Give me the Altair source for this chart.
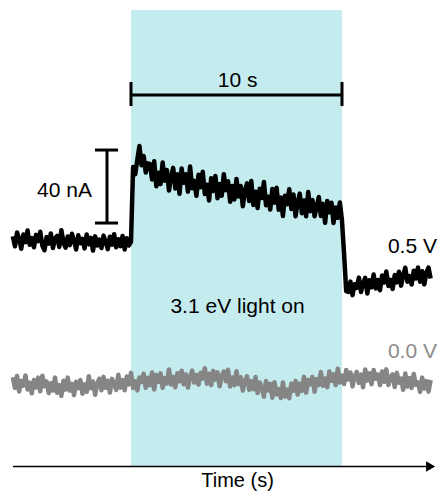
import altair as alt
import pandas as pd

# time axis (s), light switched on at t = 0 for 10 s
T_START = -5.6
T_STEP = 0.1

# photocurrent at 0.5 V (nA, relative to dark level)
black_dark = [
    2.0, -3.5, 4.1, 0.5, -4.8, 3.0, -1.2, 5.2, -2.6, 1.0,
    -4.0, 2.8, -0.6, 4.5, -3.2, -5.6, 1.6, -2.0, 3.6, -4.4,
    0.8, 2.2, -3.8, 5.4, -1.4, -4.2, 1.9, -2.8, 3.4, -0.4,
    -5.2, 2.6, -1.8, 0.6, -4.6, 3.0, -2.4, 1.2, -5.8, 2.0,
    -3.0, 0.2, -4.4, 2.4, -1.0, -5.0, 1.8, -2.6, 3.2, -4.0,
    0.4, -3.4, 2.2, -5.2, 1.0, -3.0,
]
black_light = [
    -1.0, 40.0, 36.0, 44.0, 51.5, 41.0, 46.0, 37.0, 42.0,
    41.6, 33.2, 43.1, 29.4, 36.9, 30.7, 42.5, 32.5, 38.4, 27.1,
    34.8, 39.5, 28.2, 36.0, 25.3, 39.2, 31.4, 36.0, 26.5, 40.3,
    28.4, 32.4, 24.3, 35.8, 28.9, 37.4, 25.2, 30.3, 21.7, 33.8,
    26.9, 35.1, 22.9, 30.7, 24.2, 36.0, 27.3, 32.2, 20.9, 29.6,
    22.2, 33.4, 23.8, 29.6, 18.5, 27.0, 31.0, 21.4, 32.3, 19.2,
    26.4, 17.5, 28.1, 23.0, 31.8, 19.0, 23.8, 16.7, 27.9, 20.4,
    28.6, 16.6, 23.3, 13.2, 24.3, 19.6, 27.8, 17.0, 24.9, 13.0,
    20.8, 25.4, 14.7, 21.6, 13.0, 26.3, 15.8, 21.9, 13.0, 18.1,
    23.6, 13.1, 19.8, 9.4, 21.4, 15.2, 20.4, 9.3, 17.8, 12.2,
    20.6, 10.5,
]
black_after = [
    -8.0, -28.0,
    -28.4, -22.8, -30.2, -24.2, -26.2, -20.6, -28.5, -23.9, -20.7, -29.3,
    -22.1, -25.9, -18.9, -26.5, -21.9, -27.5, -19.5, -23.3, -17.3, -25.2,
    -21.8, -26.8, -19.2, -23.2, -17.4, -25.0, -19.2, -15.2, -22.8, -19.8,
    -24.4, -16.9, -21.1, -15.1, -22.9, -17.1, -24.3, -17.9, -15.1, -21.1,
]
black_nA = black_dark + black_light + black_after

# current at 0.0 V (nA, offset for display)
gray_nA = [
    -75.2, -81.0, -74.5, -83.0, -77.2, -79.8, -74.2, -81.9, -78.2, -84.0,
    -76.7, -80.8, -75.4, -82.9, -74.4, -80.1, -77.5, -83.8, -78.5, -82.5,
    -75.4, -83.7, -79.5, -85.4, -77.1, -82.0, -75.4, -82.5, -78.8, -85.0,
    -77.7, -81.2, -76.7, -84.2, -79.1, -83.2, -74.7, -81.2, -77.5, -84.8,
    -78.9, -76.0, -82.3, -75.0, -81.0, -77.1, -83.6, -76.1, -79.0, -82.1,
    -73.8, -80.9, -76.8, -82.3, -74.8, -79.1, -72.8, -81.1, -77.4, -82.4,
    -75.3, -77.8, -73.3, -81.0, -75.5, -79.5, -72.6, -81.9, -74.0, -77.7,
    -73.1, -81.0, -75.7, -78.6, -70.9, -79.2, -75.0, -80.7, -73.0, -77.5,
    -71.6, -79.0, -73.7, -80.8, -74.9, -71.6, -78.1, -73.9, -79.2, -72.7,
    -75.9, -70.3, -78.7, -73.3, -79.5, -71.7, -76.5, -72.5, -80.1, -74.7,
    -72.1, -77.4, -71.1, -80.2, -75.3, -79.6, -71.9, -79.0, -75.2, -82.5,
    -77.2, -74.7, -82.0, -77.3, -81.8, -75.1, -83.8, -78.1, -81.0, -85.9,
    -77.2, -82.5, -78.8, -86.4, -77.9, -84.6, -81.7, -86.6, -78.1, -85.8,
    -82.0, -86.7, -78.7, -82.6, -77.2, -84.7, -78.7, -82.6, -75.0, -83.7,
    -76.7, -79.0, -75.0, -83.1, -76.3, -79.4, -72.4, -79.9, -75.9, -80.6,
    -72.0, -77.2, -73.6, -79.5, -70.5, -78.1, -74.3, -78.9, -71.2, -76.4,
    -72.6, -80.2, -74.6, -72.3, -78.3, -73.7, -80.7, -70.9, -77.0, -73.0,
    -79.0, -71.2, -76.0, -73.7, -79.5, -72.1, -77.7, -70.9, -79.4, -75.4,
    -73.6, -80.6, -72.8, -78.2, -75.9, -82.1, -73.1, -80.3, -75.7, -81.1,
    -73.4, -79.4, -78.0, -83.2, -75.4, -81.4, -77.3, -83.1, -76.7,
]

times = [round(T_START + T_STEP * i, 2) for i in range(len(black_nA))]

LIGHT_ON = 0.0
LIGHT_OFF = 10.0

FONT = "Liberation Sans"
CYAN = "#c4ebed"
GRAY = "#858585"

xs = alt.Scale(domain=[-5.829, 14.550], nice=False, zero=False)
ys = alt.Scale(domain=[-137.53, 127.12], nice=False, zero=False)

def X(f="t"):
    return alt.X(f, type="quantitative", scale=xs, axis=None)

def Y(f="v"):
    return alt.Y(f, type="quantitative", scale=ys, axis=None)

df_black = pd.DataFrame({"t": times, "v": black_nA})
df_gray = pd.DataFrame({"t": times[:len(gray_nA)], "v": gray_nA})

light = alt.Chart(pd.DataFrame({"t": [LIGHT_ON], "t2": [LIGHT_OFF], "v": [-124.1], "v2": [126.0]})).mark_rect(
    color=CYAN
).encode(x=X(), x2="t2", y=Y(), y2="v2")

gray_line = alt.Chart(df_gray).mark_line(color=GRAY, strokeWidth=4.5, strokeJoin="round").encode(x=X(), y=Y())
black_line = alt.Chart(df_black).mark_line(color="black", strokeWidth=4.5, strokeJoin="round").encode(x=X(), y=Y())

# scale bars
hbar = pd.DataFrame({"t": [0.0, 0.0, 10.0], "t2": [10.0, 0.0, 10.0], "v": [79.45, 73.4, 73.4], "v2": [79.45, 86.6, 86.6]})
hbar_rules = alt.Chart(hbar).mark_rule(color="black", strokeWidth=3).encode(x=X(), x2="t2", y=Y(), y2="v2")

vbar = pd.DataFrame({"t": [-1.137, -1.706, -1.706], "t2": [-1.137, -0.616, -0.616], "v": [9.3, 9.3, 49.3], "v2": [49.3, 9.3, 49.3]})
vbar_rules = alt.Chart(vbar).mark_rule(color="black", strokeWidth=3).encode(x=X(), x2="t2", y=Y(), y2="v2")

# time arrow
arrow_line = alt.Chart(pd.DataFrame({"t": [-5.59], "t2": [14.0], "v": [-124.1]})).mark_rule(
    color="black", strokeWidth=1.5
).encode(x=X(), x2="t2", y=Y())
arrow_head = alt.Chart(pd.DataFrame({"t": [14.2], "v": [-124.1]})).mark_point(
    shape="triangle-right", filled=True, color="black", size=110, opacity=1
).encode(x=X(), y=Y())

labels = pd.DataFrame({
    "t": [5.05, -1.85, 5.05, 14.5, 14.5, 5.05],
    "v": [83.8, 23.6, -40.0, -7.1, -64.7, -135.3],
    "text": ["10 s", "40 nA", "3.1 eV light on", "0.5 V", "0.0 V", "Time (s)"],
    "align": ["center", "right", "center", "right", "right", "center"],
    "color": ["black", "black", "black", "black", "#8c8c8c", "black"],
    "size": [21, 21, 21, 21, 21, 20],
})

def text_layer(row):
    d = labels.iloc[[row]]
    return alt.Chart(d).mark_text(
        font=FONT, fontSize=int(labels["size"][row]), align=labels["align"][row],
        baseline="alphabetic", color=labels["color"][row]
    ).encode(x=X(), y=Y(), text="text:N")

texts = [text_layer(i) for i in range(len(labels))]

chart = alt.layer(
    light, gray_line, black_line, hbar_rules, vbar_rules, arrow_line, arrow_head, *texts
).properties(
    width=430, height=483, padding=0, autosize=alt.AutoSizeParams(type="none"), background="white"
).configure_view(stroke=None)

chart.save("out.html", embed_options={"renderer": "svg", "actions": False})
